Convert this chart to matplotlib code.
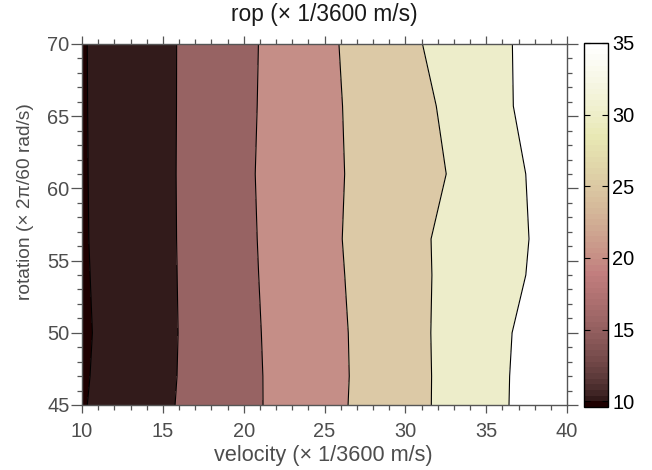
import matplotlib
matplotlib.use("Agg")
import matplotlib.pyplot as plt
import numpy as np
from matplotlib.colors import Normalize
from matplotlib.cm import ScalarMappable
from matplotlib.ticker import MultipleLocator

plt.rcParams['font.family'] = ['Liberation Sans', 'DejaVu Sans']

# ---- data ----
velocity = [10, 15, 20, 25, 30, 35, 40]
rotation = [45, 47, 50, 54, 56.5, 61, 65.7, 70]
rop = [
    [9.70, 14.31, 18.86, 23.62, 28.35, 33.48, 38.86],
    [9.54, 14.17, 18.90, 23.53, 28.33, 33.47, 38.74],
    [9.40, 14.07, 19.00, 23.57, 28.43, 33.41, 38.37],
    [9.54, 14.11, 19.13, 23.81, 28.56, 32.94, 37.14],
    [9.62, 14.14, 19.20, 23.97, 28.66, 32.87, 36.89],
    [9.66, 14.15, 19.32, 24.07, 27.80, 32.15, 37.97],
    [9.69, 14.15, 19.18, 24.08, 28.20, 32.90, 39.15],
    [9.71, 14.16, 19.08, 24.12, 29.04, 33.56, 38.00],
]
fill_levels = [9.0, 10, 15, 20, 25, 30, 35, 40]
line_levels = [10, 15, 20, 25, 30, 35]
fill_colors = ['#1e0000', '#321b1b', '#976363', '#c58e87', '#dcc9a6', '#ededca', '#ffffff']
cbar_ticks = [10, 15, 20, 25, 30, 35]
cbar_min, cbar_max = 9.6, 35

title = 'rop (× 1/3600 m/s)'
xlabel = 'velocity (× 1/3600 m/s)'
ylabel = 'rotation (× 2π/60 rad/s)'

W, H = 652, 470
fig = plt.figure(figsize=(W / 100, H / 100), dpi=100)

ax = fig.add_axes([82 / W, 1 - 405 / H, (567 - 82) / W, (405 - 44) / H])
X, Y = np.meshgrid(velocity, rotation)
Z = np.array(rop)
ax.contourf(X, Y, Z, levels=fill_levels, colors=fill_colors)
ax.contour(X, Y, Z, levels=line_levels, colors='black', linewidths=0.8)

ax.set_xlim(10, 40)
ax.set_ylim(45, 70)
ax.xaxis.set_major_locator(MultipleLocator(5))
ax.xaxis.set_minor_locator(MultipleLocator(1))
ax.yaxis.set_major_locator(MultipleLocator(5))
ax.yaxis.set_minor_locator(MultipleLocator(1))

spine_col = '#555555'
for s in ax.spines.values():
    s.set_color(spine_col)
    s.set_linewidth(1.0)
ax.tick_params(axis='both', which='both', direction='out', top=True, right=True,
               colors=spine_col, labelcolor='#4d4d4d', labelsize=14.4, width=0.9)
ax.tick_params(axis='x', which='major', length=6, pad=6.5)
ax.tick_params(axis='x', which='minor', length=3.3)
ax.tick_params(axis='y', which='major', length=8, pad=1)
ax.tick_params(axis='y', which='minor', length=3.4)

# colorbar
cax = fig.add_axes([584 / W, 1 - 407 / H, 24 / W, (407 - 43) / H])
cmap = matplotlib.colormaps['pink'].resampled(64)
sm = ScalarMappable(norm=Normalize(cbar_min, cbar_max), cmap=cmap)
cb = fig.colorbar(sm, cax=cax, ticks=cbar_ticks)
cb.outline.set_edgecolor('black')
cb.outline.set_linewidth(1.0)
cax.tick_params(direction='in', left=True, right=True, length=4, width=0.8,
                labelsize=14.4, labelcolor='black', pad=3)

# texts
fig.text(324.5 / W, 1 - 21 / H, title, ha='center', va='baseline', fontsize=16.4, color='#1a1a1a')
fig.text(323 / W, 1 - 460.5 / H, xlabel, ha='center', va='baseline', fontsize=15.6, color='#4d4d4d')
fig.text(26 / W, 1 - 201.5 / H, ylabel, ha='center', va='center', rotation=90,
         fontsize=13.8, color='#4d4d4d')

fig.savefig('out.png', dpi=100)
